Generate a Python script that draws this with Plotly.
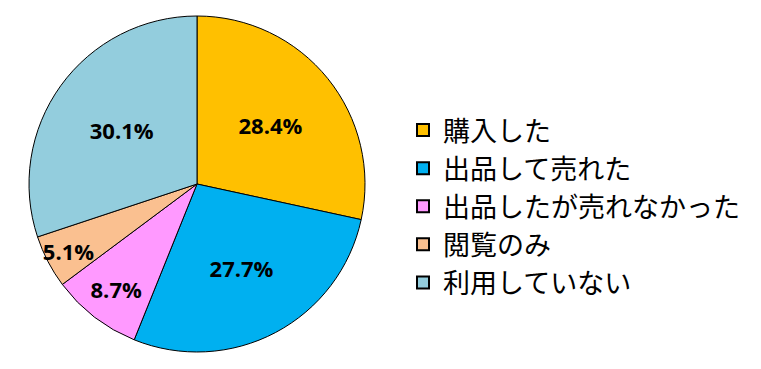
import plotly.graph_objects as go

labels = ["購入した", "出品して売れた", "出品したが売れなかった", "閲覧のみ", "利用していない"]
values = [28.4, 27.7, 8.7, 5.1, 30.1]
colors = ["#FFC000", "#00B0F0", "#FF99FF", "#FAC090", "#93CDDD"]

W, H = 761, 369
fig = go.Figure(go.Pie(
    labels=labels,
    values=values,
    sort=False,
    direction="clockwise",
    rotation=0,
    marker=dict(colors=colors, line=dict(color="#000000", width=1)),
    texttemplate="<b>%{value:.1f}%</b>",
    textposition="inside",
    insidetextorientation="horizontal",
    textfont=dict(family="Open Sans, Lato, sans-serif", size=22, color="#000000"),
    domain=dict(x=[21 / W, 357 / W], y=[1 - 344 / H, 1 - 8 / H]),
    hoverinfo="label+percent",
))
fig.update_layout(
    width=W, height=H,
    margin=dict(l=0, r=0, t=0, b=0),
    paper_bgcolor="white",
    plot_bgcolor="white",
    uniformtext=dict(minsize=22, mode="show"),
    legend=dict(
        x=395 / W, y=0.462, xanchor="left", yanchor="middle",
        font=dict(family="Noto Sans CJK JP", size=27, color="#000000"),
        itemsizing="constant",
    ),
)
fig.write_html("out.html")
